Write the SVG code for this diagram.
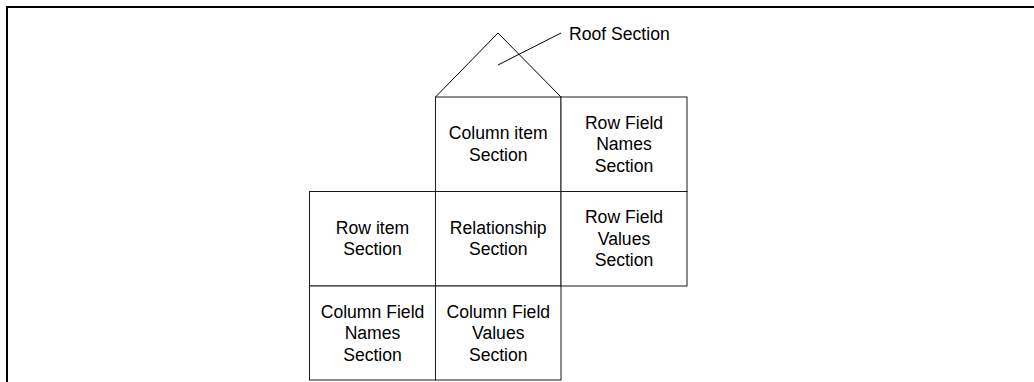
<svg xmlns="http://www.w3.org/2000/svg" width="1034" height="382" viewBox="0 0 1034 382">
<style>
.box{fill:#fff;stroke:#1a1a1a;stroke-width:1}
.lbl{font-family:"Liberation Sans",Arial,sans-serif;font-size:17.6px;fill:#000;text-anchor:middle}
.line{fill:none;stroke:#000;stroke-width:1}
</style>
<rect width="1034" height="382" fill="#fff"/>
<g id="frame">
<path d="M7 382 V7 H1034" fill="none" stroke="#000" stroke-width="2"/>
</g>
<g id="roof">
<polyline class="line" points="435.5,97 498,33 561,97"/>
</g>
<g id="column-item">
<rect class="box" x="435.5" y="97" width="125.5" height="94.5"/>
<text class="lbl" x="498.25" y="139">Column item</text>
<text class="lbl" x="498.25" y="160.5">Section</text>
</g>
<g id="row-field-names">
<rect class="box" x="561" y="97" width="126" height="94.5"/>
<text class="lbl" x="624" y="128.5">Row Field</text>
<text class="lbl" x="624" y="150">Names</text>
<text class="lbl" x="624" y="171.5">Section</text>
</g>
<g id="row-item">
<rect class="box" x="309.5" y="191.5" width="126" height="94.5"/>
<text class="lbl" x="372.5" y="233.5">Row item</text>
<text class="lbl" x="372.5" y="255">Section</text>
</g>
<g id="relationship">
<rect class="box" x="435.5" y="191.5" width="125.5" height="94.5"/>
<text class="lbl" x="498.25" y="233.5">Relationship</text>
<text class="lbl" x="498.25" y="255">Section</text>
</g>
<g id="row-field-values">
<rect class="box" x="561" y="191.5" width="126" height="94.5"/>
<text class="lbl" x="624" y="223">Row Field</text>
<text class="lbl" x="624" y="244.5">Values</text>
<text class="lbl" x="624" y="266">Section</text>
</g>
<g id="column-field-names">
<rect class="box" x="309.5" y="286" width="126" height="94"/>
<text class="lbl" x="372.5" y="317.5">Column Field</text>
<text class="lbl" x="372.5" y="339">Names</text>
<text class="lbl" x="372.5" y="360.5">Section</text>
</g>
<g id="column-field-values">
<rect class="box" x="435.5" y="286" width="125.5" height="94"/>
<text class="lbl" x="498.25" y="317.5">Column Field</text>
<text class="lbl" x="498.25" y="339">Values</text>
<text class="lbl" x="498.25" y="360.5">Section</text>
</g>
<g id="connectors">
<line class="line" x1="498" y1="65" x2="561" y2="33"/>
</g>
<g id="roof-label">
<text class="lbl" x="569" y="40" text-anchor="start" style="text-anchor:start">Roof Section</text>
</g>
</svg>
